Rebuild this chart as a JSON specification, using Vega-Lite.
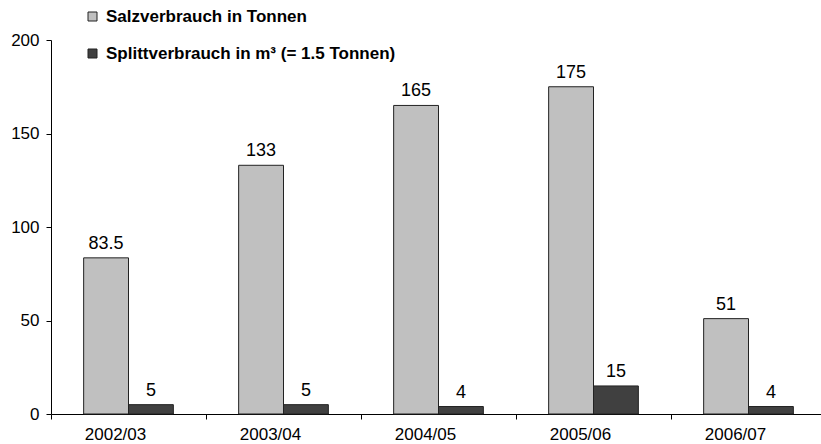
{
  "$schema": "https://vega.github.io/schema/vega-lite/v6.json",
  "autosize": "none",
  "width": 770,
  "height": 374,
  "padding": {"left": 51, "top": 40, "right": 0, "bottom": 30},
  "config": {
    "view": {"stroke": null},
    "font": "Liberation Sans",
    "axis": {"domainColor": "#000000", "tickColor": "#000000", "labelColor": "#000000", "grid": false, "title": null, "labelFont": "Liberation Sans"}
  },
  "data": {
    "values": [
      {"season": "2002/03", "series": "Salzverbrauch in Tonnen", "value": 83.5, "label": "83.5"},
      {"season": "2002/03", "series": "Splittverbrauch in m³ (= 1.5 Tonnen)", "value": 5, "label": "5"},
      {"season": "2003/04", "series": "Salzverbrauch in Tonnen", "value": 133, "label": "133"},
      {"season": "2003/04", "series": "Splittverbrauch in m³ (= 1.5 Tonnen)", "value": 5, "label": "5"},
      {"season": "2004/05", "series": "Salzverbrauch in Tonnen", "value": 165, "label": "165"},
      {"season": "2004/05", "series": "Splittverbrauch in m³ (= 1.5 Tonnen)", "value": 4, "label": "4"},
      {"season": "2005/06", "series": "Salzverbrauch in Tonnen", "value": 175, "label": "175"},
      {"season": "2005/06", "series": "Splittverbrauch in m³ (= 1.5 Tonnen)", "value": 15, "label": "15"},
      {"season": "2006/07", "series": "Salzverbrauch in Tonnen", "value": 51, "label": "51"},
      {"season": "2006/07", "series": "Splittverbrauch in m³ (= 1.5 Tonnen)", "value": 4, "label": "4"}
    ]
  },
  "encoding": {
    "x": {
      "field": "season", "type": "nominal", "sort": null,
      "scale": {"paddingInner": 0, "paddingOuter": 0, "range": [0, 775]},
      "axis": {"labelAngle": 0, "bandPosition": 0, "labelOffset": -13, "tickSize": 5, "labelPadding": 7, "labelFontSize": 17, "domainWidth": 1}
    },
    "xOffset": {
      "field": "series", "type": "nominal", "sort": null,
      "scale": {"paddingInner": 0, "paddingOuter": 0.728}
    },
    "y": {
      "field": "value", "type": "quantitative",
      "scale": {"domain": [0, 200], "nice": false},
      "axis": {"values": [0, 50, 100, 150, 200], "tickSize": 5, "labelPadding": 7, "labelFontSize": 17}
    }
  },
  "layer": [
    {
      "mark": {"type": "bar", "stroke": "#222222", "strokeWidth": 1},
      "encoding": {
        "color": {
          "field": "series", "type": "nominal", "sort": null,
          "scale": {"domain": ["Salzverbrauch in Tonnen", "Splittverbrauch in m³ (= 1.5 Tonnen)"], "range": ["#C0C0C0", "#404040"]},
          "legend": {
            "title": null, "orient": "none", "legendX": 33, "legendY": -32, "padding": 0,
            "symbolType": "square", "symbolSize": 81, "symbolStrokeColor": "#222222", "symbolStrokeWidth": 1,
            "labelFontSize": 17, "labelFontWeight": "bold", "labelColor": "#000000", "labelOffset": 5,
            "rowPadding": 19, "labelLimit": 400
          }
        }
      }
    },
    {
      "mark": {"type": "text", "baseline": "alphabetic", "dy": -9, "fontSize": 18, "color": "#000000"},
      "encoding": {"text": {"field": "label"}}
    }
  ]
}
